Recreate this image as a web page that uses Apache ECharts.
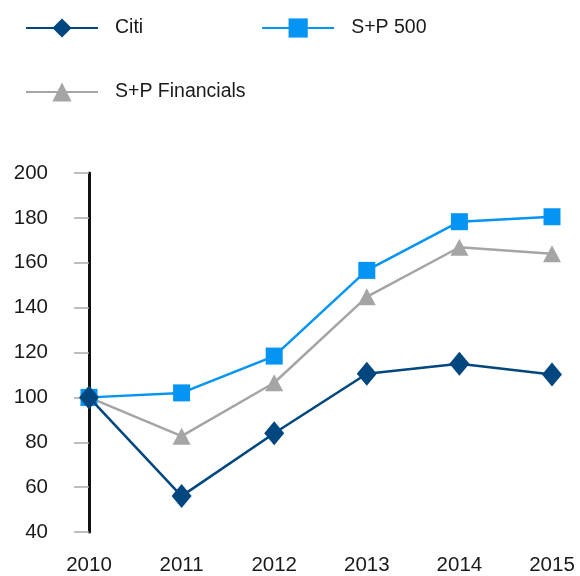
<!DOCTYPE html>
<html>
<head>
<meta charset="utf-8">
<script src="https://cdn.jsdelivr.net/npm/echarts@6/dist/echarts.min.js"></script>
<style>
  html, body { margin: 0; padding: 0; background: #fff; }
  #chart { width: 580px; height: 576px; }
</style>
</head>
<body>
<div id="chart"></div>
<script>
// data
var years = ['2010', '2011', '2012', '2013', '2014', '2015']
var citi = [100, 56, 84, 110.5, 115, 110.2]
var sp500 = [100, 102, 118.4, 156.6, 178.3, 180.5]
var spFinancials = [100, 82.7, 106.5, 144.8, 166.9, 164]

var font = '"Liberation Sans", Arial, sans-serif'
var chart = echarts.init(document.getElementById('chart'))

var legendText = { fontFamily: font, fontSize: 19.5, color: '#1a1a1a', padding: [0, 0, 0, 12] }

chart.setOption({
  animation: false,
  legend: [{
    left: 20,
    top: 13,
    itemWidth: 72,
    itemHeight: 24,
    itemGap: 118,
    textStyle: legendText,
    data: ['Citi', 'S+P 500']
  }, {
    left: 20,
    top: 77,
    itemWidth: 72,
    itemHeight: 24,
    textStyle: legendText,
    data: ['S+P Financials']
  }],
  grid: {
    left: 89,
    right: 28,
    top: 173,
    bottom: 40,
    containLabel: false
  },
  xAxis: {
    type: 'category',
    data: years,
    boundaryGap: false,
    axisLine: { show: false },
    axisTick: { show: false },
    axisLabel: { margin: 23, fontFamily: font, fontSize: 20.5, color: '#1a1a1a' }
  },
  yAxis: {
    type: 'value',
    min: 40,
    max: 200,
    interval: 20,
    splitLine: { show: false },
    axisLine: { show: true, lineStyle: { color: '#111', width: 3 } },
    axisTick: { show: true, length: 15, lineStyle: { color: '#aaa', width: 1.5 } },
    axisLabel: { margin: 41, fontFamily: font, fontSize: 20.5, color: '#1a1a1a' }
  },
  series: [{
    name: 'Citi',
    type: 'line',
    data: citi,
    z: 4,
    symbol: 'diamond',
    symbolSize: [20, 24],
    lineStyle: { color: '#00467f', width: 2.5 },
    itemStyle: { color: '#00467f' }
  }, {
    name: 'S+P 500',
    type: 'line',
    data: sp500,
    z: 3,
    symbol: 'rect',
    symbolSize: 17,
    lineStyle: { color: '#0494f4', width: 2.5 },
    itemStyle: { color: '#0494f4' }
  }, {
    name: 'S+P Financials',
    type: 'line',
    data: spFinancials,
    z: 2,
    symbol: 'triangle',
    symbolSize: [18, 17],
    lineStyle: { color: '#a5a5a5', width: 2.5 },
    itemStyle: { color: '#a5a5a5' }
  }]
})
</script>
</body>
</html>
